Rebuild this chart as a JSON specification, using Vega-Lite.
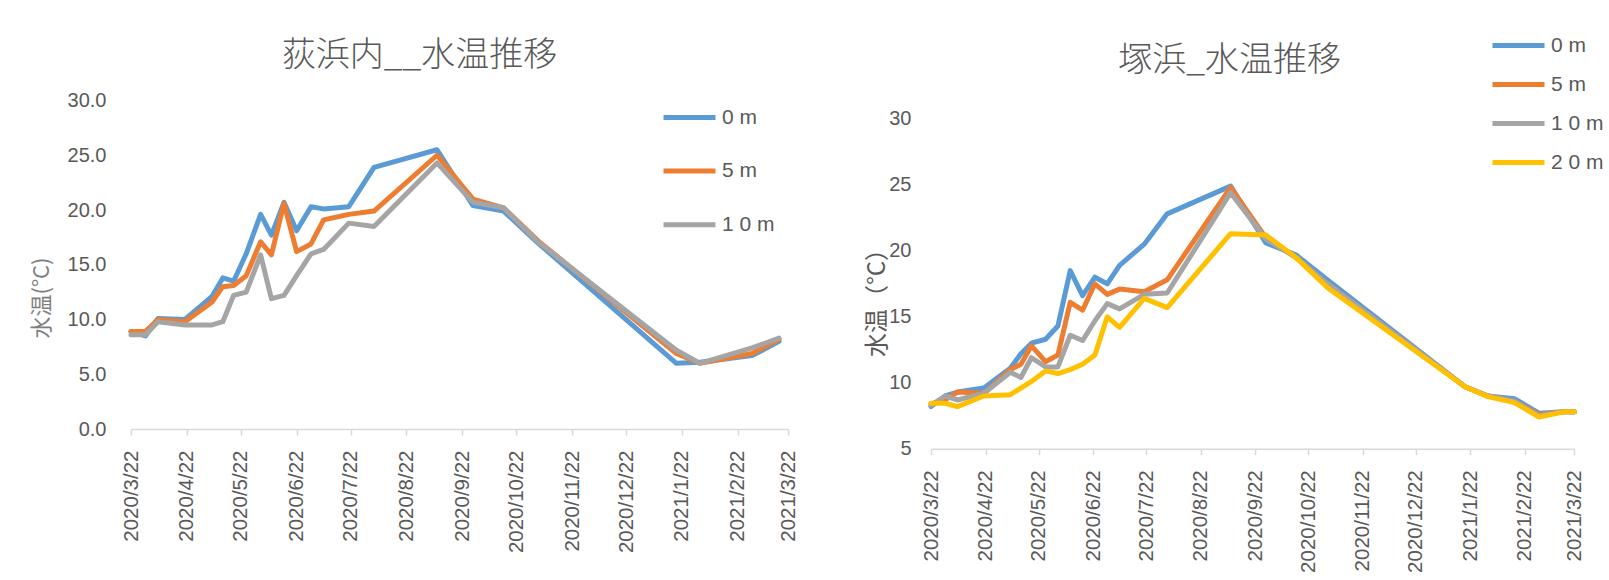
{
"$schema": "https://vega.github.io/schema/vega-lite/v6.json",
"background": "white",
"padding": {"left": 30, "top": 16.5, "right": 0, "bottom": 0},
"spacing": 66,
"config": {
  "view": {"stroke": null},
  "font": "Liberation Sans",
  "axis": {"grid": false, "labelColor": "#595959", "labelFont": "Liberation Sans", "titleColor": "#7F7F7F", "titleFontWeight": "normal"},
  "legend": {"orient": "none", "title": null, "symbolType": "stroke", "symbolSize": 2704, "symbolStrokeWidth": 5, "labelFontSize": 21, "labelColor": "#595959", "labelFont": "Liberation Sans", "labelOffset": 4, "padding": 0}
},
"datasets": {
  "ogi": [
    {"date":"2020-03-22","depth":"0 m","temp":8.9},{"date":"2020-03-30","depth":"0 m","temp":8.5},{"date":"2020-04-06","depth":"0 m","temp":10.1},{"date":"2020-04-21","depth":"0 m","temp":10.0},{"date":"2020-05-06","depth":"0 m","temp":12.1},{"date":"2020-05-12","depth":"0 m","temp":13.8},{"date":"2020-05-18","depth":"0 m","temp":13.5},{"date":"2020-05-25","depth":"0 m","temp":16.0},{"date":"2020-06-02","depth":"0 m","temp":19.6},{"date":"2020-06-08","depth":"0 m","temp":17.7},{"date":"2020-06-15","depth":"0 m","temp":20.7},{"date":"2020-06-22","depth":"0 m","temp":18.1},{"date":"2020-06-30","depth":"0 m","temp":20.3},{"date":"2020-07-07","depth":"0 m","temp":20.1},{"date":"2020-07-21","depth":"0 m","temp":20.3},{"date":"2020-08-04","depth":"0 m","temp":23.9},{"date":"2020-09-08","depth":"0 m","temp":25.5},{"date":"2020-09-28","depth":"0 m","temp":20.4},{"date":"2020-10-15","depth":"0 m","temp":19.9},{"date":"2020-11-03","depth":"0 m","temp":17.0},{"date":"2021-01-19","depth":"0 m","temp":6.0},{"date":"2021-02-01","depth":"0 m","temp":6.1},{"date":"2021-03-02","depth":"0 m","temp":6.7},{"date":"2021-03-17","depth":"0 m","temp":8.0},
    {"date":"2020-03-22","depth":"5 m","temp":8.9},{"date":"2020-03-30","depth":"5 m","temp":8.9},{"date":"2020-04-06","depth":"5 m","temp":10.0},{"date":"2020-04-21","depth":"5 m","temp":9.8},{"date":"2020-05-06","depth":"5 m","temp":11.6},{"date":"2020-05-12","depth":"5 m","temp":13.0},{"date":"2020-05-18","depth":"5 m","temp":13.1},{"date":"2020-05-25","depth":"5 m","temp":14.0},{"date":"2020-06-02","depth":"5 m","temp":17.1},{"date":"2020-06-08","depth":"5 m","temp":15.9},{"date":"2020-06-15","depth":"5 m","temp":20.6},{"date":"2020-06-22","depth":"5 m","temp":16.2},{"date":"2020-06-30","depth":"5 m","temp":16.9},{"date":"2020-07-07","depth":"5 m","temp":19.1},{"date":"2020-07-21","depth":"5 m","temp":19.6},{"date":"2020-08-04","depth":"5 m","temp":19.9},{"date":"2020-09-08","depth":"5 m","temp":25.0},{"date":"2020-09-28","depth":"5 m","temp":21.0},{"date":"2020-10-15","depth":"5 m","temp":20.2},{"date":"2020-11-03","depth":"5 m","temp":17.2},{"date":"2021-01-19","depth":"5 m","temp":6.9},{"date":"2021-02-01","depth":"5 m","temp":6.0},{"date":"2021-03-02","depth":"5 m","temp":6.9},{"date":"2021-03-17","depth":"5 m","temp":8.2},
    {"date":"2020-03-22","depth":"1 0 m","temp":8.6},{"date":"2020-03-30","depth":"1 0 m","temp":8.6},{"date":"2020-04-06","depth":"1 0 m","temp":9.8},{"date":"2020-04-21","depth":"1 0 m","temp":9.5},{"date":"2020-05-06","depth":"1 0 m","temp":9.5},{"date":"2020-05-12","depth":"1 0 m","temp":9.8},{"date":"2020-05-18","depth":"1 0 m","temp":12.2},{"date":"2020-05-25","depth":"1 0 m","temp":12.5},{"date":"2020-06-02","depth":"1 0 m","temp":15.9},{"date":"2020-06-08","depth":"1 0 m","temp":11.9},{"date":"2020-06-15","depth":"1 0 m","temp":12.2},{"date":"2020-06-22","depth":"1 0 m","temp":14.0},{"date":"2020-06-30","depth":"1 0 m","temp":16.0},{"date":"2020-07-07","depth":"1 0 m","temp":16.4},{"date":"2020-07-21","depth":"1 0 m","temp":18.8},{"date":"2020-08-04","depth":"1 0 m","temp":18.5},{"date":"2020-09-08","depth":"1 0 m","temp":24.3},{"date":"2020-09-28","depth":"1 0 m","temp":20.7},{"date":"2020-10-15","depth":"1 0 m","temp":20.2},{"date":"2020-11-03","depth":"1 0 m","temp":17.1},{"date":"2021-01-19","depth":"1 0 m","temp":7.2},{"date":"2021-02-01","depth":"1 0 m","temp":6.0},{"date":"2021-03-02","depth":"1 0 m","temp":7.4},{"date":"2021-03-17","depth":"1 0 m","temp":8.3}
  ],
  "tsuka": [
    {"date":"2020-03-22","depth":"0 m","temp":8.2},{"date":"2020-03-30","depth":"0 m","temp":9.0},{"date":"2020-04-06","depth":"0 m","temp":9.3},{"date":"2020-04-21","depth":"0 m","temp":9.6},{"date":"2020-05-06","depth":"0 m","temp":11.1},{"date":"2020-05-12","depth":"0 m","temp":12.2},{"date":"2020-05-18","depth":"0 m","temp":13.0},{"date":"2020-05-26","depth":"0 m","temp":13.3},{"date":"2020-06-02","depth":"0 m","temp":14.3},{"date":"2020-06-09","depth":"0 m","temp":18.5},{"date":"2020-06-16","depth":"0 m","temp":16.6},{"date":"2020-06-23","depth":"0 m","temp":18.0},{"date":"2020-06-30","depth":"0 m","temp":17.5},{"date":"2020-07-07","depth":"0 m","temp":18.9},{"date":"2020-07-21","depth":"0 m","temp":20.5},{"date":"2020-08-03","depth":"0 m","temp":22.8},{"date":"2020-09-08","depth":"0 m","temp":24.9},{"date":"2020-09-28","depth":"0 m","temp":20.6},{"date":"2020-10-15","depth":"0 m","temp":19.7},{"date":"2020-11-02","depth":"0 m","temp":17.8},{"date":"2021-01-19","depth":"0 m","temp":9.7},{"date":"2021-02-01","depth":"0 m","temp":9.0},{"date":"2021-02-16","depth":"0 m","temp":8.8},{"date":"2021-03-02","depth":"0 m","temp":7.7},{"date":"2021-03-16","depth":"0 m","temp":7.8},{"date":"2021-03-22","depth":"0 m","temp":7.8},
    {"date":"2020-03-22","depth":"5 m","temp":8.4},{"date":"2020-03-30","depth":"5 m","temp":8.7},{"date":"2020-04-06","depth":"5 m","temp":9.3},{"date":"2020-04-21","depth":"5 m","temp":9.2},{"date":"2020-05-06","depth":"5 m","temp":11.0},{"date":"2020-05-12","depth":"5 m","temp":11.4},{"date":"2020-05-18","depth":"5 m","temp":12.8},{"date":"2020-05-26","depth":"5 m","temp":11.6},{"date":"2020-06-02","depth":"5 m","temp":12.1},{"date":"2020-06-09","depth":"5 m","temp":16.1},{"date":"2020-06-16","depth":"5 m","temp":15.5},{"date":"2020-06-23","depth":"5 m","temp":17.5},{"date":"2020-06-30","depth":"5 m","temp":16.7},{"date":"2020-07-07","depth":"5 m","temp":17.1},{"date":"2020-07-21","depth":"5 m","temp":16.9},{"date":"2020-08-03","depth":"5 m","temp":17.8},{"date":"2020-09-08","depth":"5 m","temp":24.8},{"date":"2020-09-28","depth":"5 m","temp":21.0},{"date":"2020-10-15","depth":"5 m","temp":19.5},{"date":"2020-11-02","depth":"5 m","temp":17.5},{"date":"2021-01-19","depth":"5 m","temp":9.7},{"date":"2021-02-01","depth":"5 m","temp":9.0},{"date":"2021-02-16","depth":"5 m","temp":8.6},{"date":"2021-03-02","depth":"5 m","temp":7.6},{"date":"2021-03-16","depth":"5 m","temp":7.8},{"date":"2021-03-22","depth":"5 m","temp":7.8},
    {"date":"2020-03-22","depth":"1 0 m","temp":8.3},{"date":"2020-03-30","depth":"1 0 m","temp":9.0},{"date":"2020-04-06","depth":"1 0 m","temp":8.7},{"date":"2020-04-21","depth":"1 0 m","temp":9.2},{"date":"2020-05-06","depth":"1 0 m","temp":10.8},{"date":"2020-05-12","depth":"1 0 m","temp":10.4},{"date":"2020-05-18","depth":"1 0 m","temp":11.9},{"date":"2020-05-26","depth":"1 0 m","temp":11.2},{"date":"2020-06-02","depth":"1 0 m","temp":11.2},{"date":"2020-06-09","depth":"1 0 m","temp":13.6},{"date":"2020-06-16","depth":"1 0 m","temp":13.2},{"date":"2020-06-23","depth":"1 0 m","temp":14.7},{"date":"2020-06-30","depth":"1 0 m","temp":16.0},{"date":"2020-07-07","depth":"1 0 m","temp":15.6},{"date":"2020-07-21","depth":"1 0 m","temp":16.7},{"date":"2020-08-03","depth":"1 0 m","temp":16.8},{"date":"2020-09-08","depth":"1 0 m","temp":24.4},{"date":"2020-09-28","depth":"1 0 m","temp":20.9},{"date":"2020-10-15","depth":"1 0 m","temp":19.5},{"date":"2020-11-02","depth":"1 0 m","temp":17.5},{"date":"2021-01-19","depth":"1 0 m","temp":9.7},{"date":"2021-02-01","depth":"1 0 m","temp":9.0},{"date":"2021-02-16","depth":"1 0 m","temp":8.6},{"date":"2021-03-02","depth":"1 0 m","temp":7.5},{"date":"2021-03-16","depth":"1 0 m","temp":7.8},{"date":"2021-03-22","depth":"1 0 m","temp":7.8},
    {"date":"2020-03-22","depth":"2 0 m","temp":8.45},{"date":"2020-03-30","depth":"2 0 m","temp":8.45},{"date":"2020-04-06","depth":"2 0 m","temp":8.2},{"date":"2020-04-21","depth":"2 0 m","temp":9.0},{"date":"2020-05-06","depth":"2 0 m","temp":9.1},{"date":"2020-05-12","depth":"2 0 m","temp":9.6},{"date":"2020-05-18","depth":"2 0 m","temp":10.1},{"date":"2020-05-26","depth":"2 0 m","temp":10.9},{"date":"2020-06-02","depth":"2 0 m","temp":10.7},{"date":"2020-06-09","depth":"2 0 m","temp":11.0},{"date":"2020-06-16","depth":"2 0 m","temp":11.4},{"date":"2020-06-23","depth":"2 0 m","temp":12.1},{"date":"2020-06-30","depth":"2 0 m","temp":15.0},{"date":"2020-07-07","depth":"2 0 m","temp":14.2},{"date":"2020-07-21","depth":"2 0 m","temp":16.4},{"date":"2020-08-03","depth":"2 0 m","temp":15.7},{"date":"2020-09-08","depth":"2 0 m","temp":21.3},{"date":"2020-09-28","depth":"2 0 m","temp":21.2},{"date":"2020-10-15","depth":"2 0 m","temp":19.5},{"date":"2020-11-02","depth":"2 0 m","temp":17.2},{"date":"2021-01-19","depth":"2 0 m","temp":9.7},{"date":"2021-02-01","depth":"2 0 m","temp":8.95},{"date":"2021-02-16","depth":"2 0 m","temp":8.5},{"date":"2021-03-02","depth":"2 0 m","temp":7.4},{"date":"2021-03-16","depth":"2 0 m","temp":7.8},{"date":"2021-03-22","depth":"2 0 m","temp":7.8}
  ]
},
"resolve": {"scale": {"color": "independent"}, "legend": {"color": "independent"}},
"hconcat": [
  {
    "width": 657, "height": 328.5,
    "data": {"name": "ogi"},
    "title": {"text": "荻浜内__水温推移", "font": "Noto Sans CJK JP", "fontSize": 34, "fontWeight": 300, "color": "#595959", "anchor": "middle", "frame": "group", "dx": -40, "offset": 16.5},
    "mark": {"type": "line", "strokeWidth": 5, "strokeJoin": "round", "strokeCap": "round"},
    "encoding": {
      "x": {"field": "date", "type": "temporal",
        "scale": {"type": "utc", "domain": [{"year": 2020, "month": 3, "date": 22, "utc": true}, {"year": 2021, "month": 3, "date": 22, "utc": true}]},
        "axis": {"title": null, "format": "%Y/%-m/%-d", "labelAngle": -90, "labelFontSize": 20.5, "labelPadding": 15, "tickSize": 6, "tickColor": "#D9D9D9", "domainColor": "#D9D9D9", "domainWidth": 1.5, "tickWidth": 1.5, "labelOverlap": false, "labelFlush": false, "labelBound": false,
          "values": [{"year":2020,"month":3,"date":22,"utc":true},{"year":2020,"month":4,"date":22,"utc":true},{"year":2020,"month":5,"date":22,"utc":true},{"year":2020,"month":6,"date":22,"utc":true},{"year":2020,"month":7,"date":22,"utc":true},{"year":2020,"month":8,"date":22,"utc":true},{"year":2020,"month":9,"date":22,"utc":true},{"year":2020,"month":10,"date":22,"utc":true},{"year":2020,"month":11,"date":22,"utc":true},{"year":2020,"month":12,"date":22,"utc":true},{"year":2021,"month":1,"date":22,"utc":true},{"year":2021,"month":2,"date":22,"utc":true},{"year":2021,"month":3,"date":22,"utc":true}]}},
      "y": {"field": "temp", "type": "quantitative",
        "scale": {"domain": [0, 30], "nice": false, "zero": false},
        "axis": {"values": [0, 5, 10, 15, 20, 25, 30], "format": ".1f", "domain": false, "ticks": false, "labelFontSize": 20, "labelPadding": 25,
          "title": "水温(°C)", "titleFont": "Noto Sans CJK JP", "titleFontSize": 22, "titleColor": "#7F7F7F", "titleAngle": -90, "titleAlign": "center", "titleBaseline": "middle", "titleX": -90, "titleY": 197}},
      "color": {"field": "depth", "type": "nominal",
        "scale": {"domain": ["0 m", "5 m", "1 0 m"], "range": ["#5B9BD5", "#ED7D31", "#A5A5A5"]},
        "legend": {"legendX": 530, "legendY": -11.5, "rowPadding": 14.6}}
    }
  },
  {
    "width": 643.3, "height": 348.3,
    "data": {"name": "tsuka"},
    "title": {"text": "塚浜_水温推移", "font": "Noto Sans CJK JP", "fontSize": 34, "fontWeight": 300, "color": "#595959", "anchor": "middle", "frame": "group", "dx": -23, "offset": -61},
    "mark": {"type": "line", "strokeWidth": 5, "strokeJoin": "round", "strokeCap": "round"},
    "encoding": {
      "x": {"field": "date", "type": "temporal",
        "scale": {"type": "utc", "domain": [{"year": 2020, "month": 3, "date": 22, "utc": true}, {"year": 2021, "month": 3, "date": 22, "utc": true}]},
        "axis": {"title": null, "format": "%Y/%-m/%-d", "labelAngle": -90, "labelFontSize": 20.5, "labelPadding": 15, "tickSize": 6, "tickColor": "#D9D9D9", "domainColor": "#D9D9D9", "domainWidth": 1.5, "tickWidth": 1.5, "labelOverlap": false, "labelFlush": false, "labelBound": false,
          "values": [{"year":2020,"month":3,"date":22,"utc":true},{"year":2020,"month":4,"date":22,"utc":true},{"year":2020,"month":5,"date":22,"utc":true},{"year":2020,"month":6,"date":22,"utc":true},{"year":2020,"month":7,"date":22,"utc":true},{"year":2020,"month":8,"date":22,"utc":true},{"year":2020,"month":9,"date":22,"utc":true},{"year":2020,"month":10,"date":22,"utc":true},{"year":2020,"month":11,"date":22,"utc":true},{"year":2020,"month":12,"date":22,"utc":true},{"year":2021,"month":1,"date":22,"utc":true},{"year":2021,"month":2,"date":22,"utc":true},{"year":2021,"month":3,"date":22,"utc":true}]}},
      "y": {"field": "temp", "type": "quantitative",
        "scale": {"domain": [5, 31.386], "nice": false, "zero": false},
        "axis": {"values": [5, 10, 15, 20, 25, 30], "format": "d", "domain": false, "ticks": false, "labelFontSize": 20, "labelPadding": 20,
          "title": "水温（°C）", "titleFont": "Noto Sans CJK JP", "titleFontSize": 24, "titleColor": "#595959", "titleAngle": -90, "titleAlign": "center", "titleBaseline": "middle", "titleX": -54, "titleY": 196}},
      "color": {"field": "depth", "type": "nominal",
        "scale": {"domain": ["0 m", "5 m", "1 0 m", "2 0 m"], "range": ["#5B9BD5", "#ED7D31", "#A5A5A5", "#FFC000"]},
        "legend": {"legendX": 559, "legendY": -83.5, "rowPadding": 0}}
    }
  }
]
}
